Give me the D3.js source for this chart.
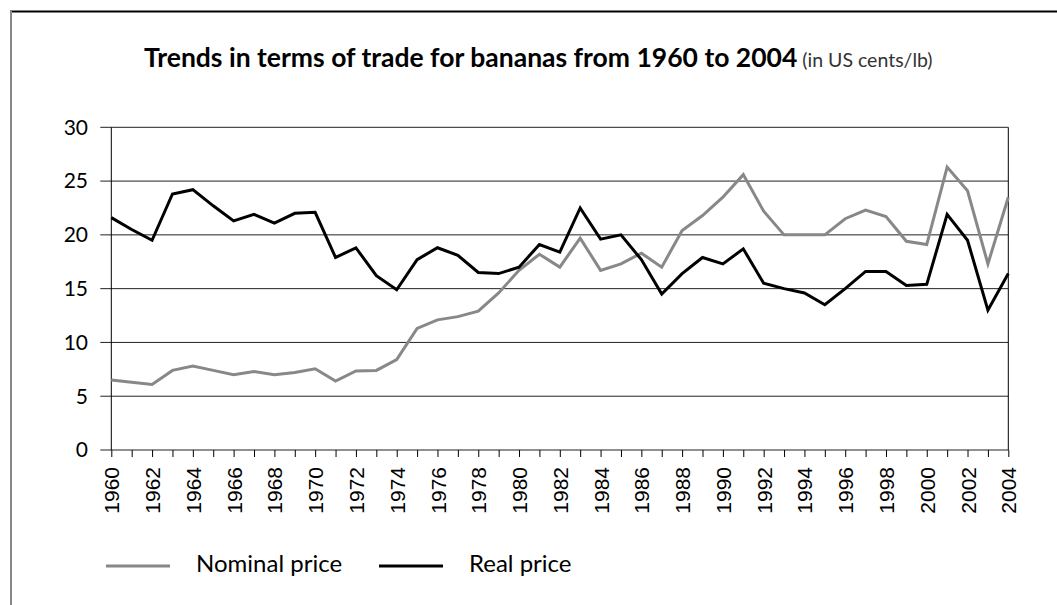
<html>
<head>
    <style>
        body { margin: 0; background: white; }
        .grid line { stroke: #222; stroke-width: 1 }
    </style>
</head>
<body>
    <svg id="container" width="1057" height="605"></svg>
</body>
<script src="https://cdn.jsdelivr.net/npm/d3@7"></script>
<script>
    // years on the x axis
    let years = [1960, 1961, 1962, 1963, 1964, 1965, 1966, 1967, 1968, 1969,
        1970, 1971, 1972, 1973, 1974, 1975, 1976, 1977, 1978, 1979,
        1980, 1981, 1982, 1983, 1984, 1985, 1986, 1987, 1988, 1989,
        1990, 1991, 1992, 1993, 1994, 1995, 1996, 1997, 1998, 1999,
        2000, 2001, 2002, 2003, 2004]
    let yearLabels = years.filter(y => y % 2 == 0)

    // US cents/lb
    let nominalPrice = [6.5, 6.3, 6.1, 7.4, 7.8, 7.4, 7.0, 7.3, 7.0, 7.2,
        7.55, 6.4, 7.35, 7.4, 8.4, 11.3, 12.1, 12.4, 12.9, 14.6,
        16.7, 18.2, 17.0, 19.7, 16.7, 17.3, 18.3, 17.0, 20.4, 21.8,
        23.5, 25.6, 22.2, 20.0, 20.0, 20.0, 21.5, 22.3, 21.7, 19.4,
        19.1, 26.3, 24.1, 17.3, 23.5]
    let realPrice = [21.6, 20.5, 19.5, 23.8, 24.2, 22.7, 21.3, 21.9, 21.1, 22.0,
        22.1, 17.9, 18.8, 16.2, 14.9, 17.7, 18.8, 18.1, 16.5, 16.4,
        17.0, 19.1, 18.4, 22.5, 19.6, 20.0, 17.7, 14.5, 16.4, 17.9,
        17.3, 18.7, 15.5, 15.0, 14.6, 13.5, 15.0, 16.6, 16.6, 15.3,
        15.4, 21.9, 19.5, 13.0, 16.4]
    let yTicks = [0, 5, 10, 15, 20, 25, 30]

    let series = [
        { name: "Nominal price", values: nominalPrice, color: "#888888" },
        { name: "Real price", values: realPrice, color: "#000000" }
    ]

    let svg = d3.select("#container")

    // frame round the whole picture
    svg.append("line").attr("x1", 10).attr("x2", 1057).attr("y1", 11.5).attr("y2", 11.5)
        .attr("stroke", "black").attr("stroke-width", 2)
    svg.append("line").attr("x1", 11).attr("x2", 11).attr("y1", 11).attr("y2", 605)
        .attr("stroke", "#888").attr("stroke-width", 2)

    // title
    let title = svg.append("text")
        .attr("x", 144).attr("y", 67)
        .attr("font-family", "Lato")
    title.append("tspan").text("Trends in terms of trade for bananas from 1960 to 2004")
        .attr("font-weight", "bold").attr("font-size", 26.5)
    title.append("tspan").text(" (in US cents/lb)")
        .attr("font-weight", "normal").attr("font-size", 19.5).attr("fill", "#333")

    let plotLeft = 111.3, plotRight = 1008.3, plotTop = 127.3, plotBottom = 450

    let x = d3.scaleLinear().domain([1960, 2004]).range([plotLeft, plotRight])
    let y = d3.scaleLinear().domain([0, 30]).range([plotBottom, plotTop])

    // horizontal grid lines with ticks sticking out to the left
    svg.append("g").attr("class", "grid")
        .selectAll("line").data(yTicks).enter().append("line")
        .attr("x1", plotLeft - 11).attr("x2", plotRight)
        .attr("y1", d => y(d)).attr("y2", d => y(d))

    // y axis labels
    svg.append("g").selectAll("text").data(yTicks).enter().append("text")
        .attr("x", 88).attr("y", d => y(d) + 2)
        .attr("text-anchor", "end").attr("dominant-baseline", "middle")
        .attr("font-family", "Lato").attr("font-size", 21)
        .text(d => d)

    // left and right borders of the plot
    svg.append("line").attr("x1", plotLeft).attr("x2", plotLeft).attr("y1", plotTop).attr("y2", plotBottom)
        .attr("stroke", "black")
    svg.append("line").attr("x1", plotRight).attr("x2", plotRight).attr("y1", plotTop).attr("y2", plotBottom)
        .attr("stroke", "black")

    // x axis: a tick every year, a label every 2 years
    let xAxis = d3.axisBottom(x)
        .tickValues(years)
        .tickSize(7)
        .tickSizeOuter(0)
        .tickFormat(d => yearLabels.includes(d) ? d : "")
    let gx = svg.append("g").attr("transform", `translate(0,${plotBottom})`).call(xAxis)
    gx.select(".domain").remove()
    gx.selectAll(".tick line").attr("stroke", "black")
    gx.selectAll(".tick text")
        .attr("font-family", "Liberation Sans").attr("font-size", 21).attr("fill", "black")
        .attr("transform", "rotate(-90)")
        .attr("text-anchor", "end")
        .attr("x", -17).attr("y", 0).attr("dy", "0.36em")

    // the two price lines
    let line = d3.line()
        .x((d, i) => x(years[i]))
        .y(d => y(d))

    svg.append("g").selectAll("path").data(series).enter().append("path")
        .attr("d", d => line(d.values))
        .attr("fill", "none")
        .attr("stroke", d => d.color)
        .attr("stroke-width", 3)
        .attr("stroke-linejoin", "miter")

    // legend
    let legendX = [106, 379]
    let legend = svg.append("g").selectAll("g").data(series).enter().append("g")
        .attr("transform", (d, i) => `translate(${legendX[i]},566)`)
    legend.append("line")
        .attr("x1", 0).attr("x2", 64).attr("y1", 0).attr("y2", 0)
        .attr("stroke", d => d.color).attr("stroke-width", 3)
    legend.append("text")
        .attr("x", 90).attr("y", 0).attr("dominant-baseline", "middle")
        .attr("font-family", "Lato").attr("font-size", 24)
        .text(d => d.name)
</script>
</html>
